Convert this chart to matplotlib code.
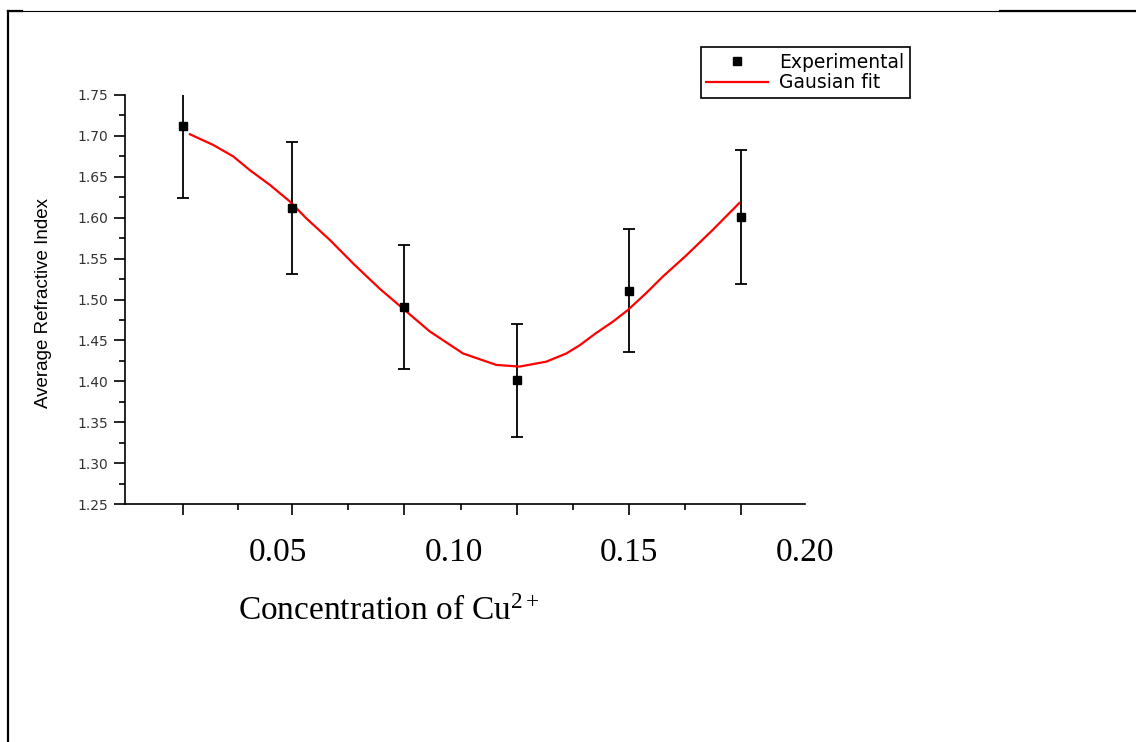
import matplotlib
matplotlib.use('Agg')
import matplotlib.pyplot as plt
from matplotlib.lines import Line2D
from matplotlib.ticker import MultipleLocator, FixedLocator

plt.rcParams['mathtext.fontset'] = 'custom'
plt.rcParams['mathtext.rm'] = 'Liberation Serif'
plt.rcParams['mathtext.it'] = 'Liberation Serif:italic'

# experimental points
conc = [0.023, 0.054, 0.086, 0.118, 0.150, 0.182]
ref_index = [1.712, 1.612, 1.491, 1.401, 1.511, 1.601]
ref_err = [0.088, 0.081, 0.076, 0.069, 0.075, 0.082]

# gaussian fit curve
fit_x = [0.0249, 0.0315, 0.0372, 0.0420, 0.0477, 0.0533, 0.0581, 0.0647,
         0.0714, 0.0790, 0.0861, 0.0932, 0.1027, 0.1122, 0.1188, 0.1264,
         0.1321, 0.1359, 0.1406, 0.1454, 0.1496, 0.1549, 0.1596, 0.1663,
         0.1738, 0.1814]
fit_y = [1.702, 1.689, 1.675, 1.658, 1.640, 1.620, 1.599, 1.573,
         1.544, 1.513, 1.487, 1.461, 1.434, 1.420, 1.418, 1.424,
         1.434, 1.444, 1.459, 1.473, 1.487, 1.508, 1.528, 1.554,
         1.585, 1.618]

x_labels = ['0.05', '0.10', '0.15', '0.20']
x_label_pos = [0.05, 0.10, 0.15, 0.20]

W, H = 1136, 742
fig = plt.figure(figsize=(W / 100, H / 100), dpi=100)
fig.patch.set_facecolor('white')

# page frame lines
fig.add_artist(Line2D([8 / W, 8 / W], [0, 1 - 11 / H], color='black', lw=1.6))
fig.add_artist(Line2D([8 / W, 1], [1 - 11 / H, 1 - 11 / H], color='black', lw=0.8))
fig.add_artist(Line2D([8 / W, 22 / W], [1 - 11 / H, 1 - 11 / H], color='black', lw=1.6))
fig.add_artist(Line2D([1000 / W, 1], [1 - 11 / H, 1 - 11 / H], color='black', lw=1.6))

ax = fig.add_axes([125 / W, 1 - 504 / H, 680 / W, 409 / H])

ax.errorbar(conc, ref_index, yerr=ref_err, fmt='none', ecolor='black',
            elinewidth=1.3, capsize=4, capthick=1.3, zorder=2)
ax.plot(fit_x, fit_y, color='#ff0000', lw=1.6, label='Gausian fit', zorder=3)
ax.plot(conc, ref_index, 's', color='black', markersize=6, label='Experimental',
        zorder=4, linestyle='none')

ax.set_xlim(0.0064, 0.2001)
ax.set_ylim(1.25, 1.75)

for s in ['top', 'right']:
    ax.spines[s].set_visible(False)
for s in ['left', 'bottom']:
    ax.spines[s].set_linewidth(1.2)

ax.yaxis.set_major_locator(MultipleLocator(0.05))
ax.yaxis.set_minor_locator(MultipleLocator(0.025))
ax.set_yticklabels(['%.2f' % v for v in ax.get_yticks()])
ax.xaxis.set_major_locator(FixedLocator(conc))
mids = [(conc[i] + conc[i + 1]) / 2 for i in range(len(conc) - 1)]
ax.xaxis.set_minor_locator(FixedLocator(mids))
ax.set_xticklabels([])

ax.tick_params(axis='both', which='major', direction='out', length=8, width=1.2)
ax.tick_params(axis='both', which='minor', direction='out', length=4, width=1.2)
ax.tick_params(axis='y', labelsize=10, labelcolor='#333333', pad=4)
for lab in ax.get_yticklabels():
    lab.set_family('DejaVu Sans')

# serif tick labels sitting below the axis
sec = ax.secondary_xaxis('bottom')
sec.set_xticks(x_label_pos)
sec.set_xticklabels(x_labels, fontsize=24, family='Liberation Serif')
sec.tick_params(axis='x', length=0, pad=24)
sec.spines['bottom'].set_visible(False)

ax.set_xlabel(r'Concentration of Cu$^{\mathrm{2+}}$', fontsize=24,
              family='Liberation Serif')
ax.xaxis.set_label_coords((389 - 125) / 680, (504 - 596) / 409)

ax.set_ylabel('Average Refractive Index', fontsize=13.5, family='Liberation Sans')
ax.yaxis.set_label_coords((52 - 125) / 680, (504 - 303) / 409)

leg = fig.legend(handles=[ax.lines[-1], ax.lines[-2]],
                 labels=['Experimental', 'Gausian fit'],
                 loc='upper right', bbox_to_anchor=(910 / W, 1 - 47 / H),
                 borderaxespad=0, fancybox=False, frameon=True,
                 edgecolor='black', framealpha=1, numpoints=1,
                 handlelength=3.3, handletextpad=0.6, borderpad=0.3,
                 labelspacing=0.1, prop={'family': 'DejaVu Sans', 'size': 13.5})
leg.get_frame().set_linewidth(1.2)

fig.savefig('out.png', dpi=100)
